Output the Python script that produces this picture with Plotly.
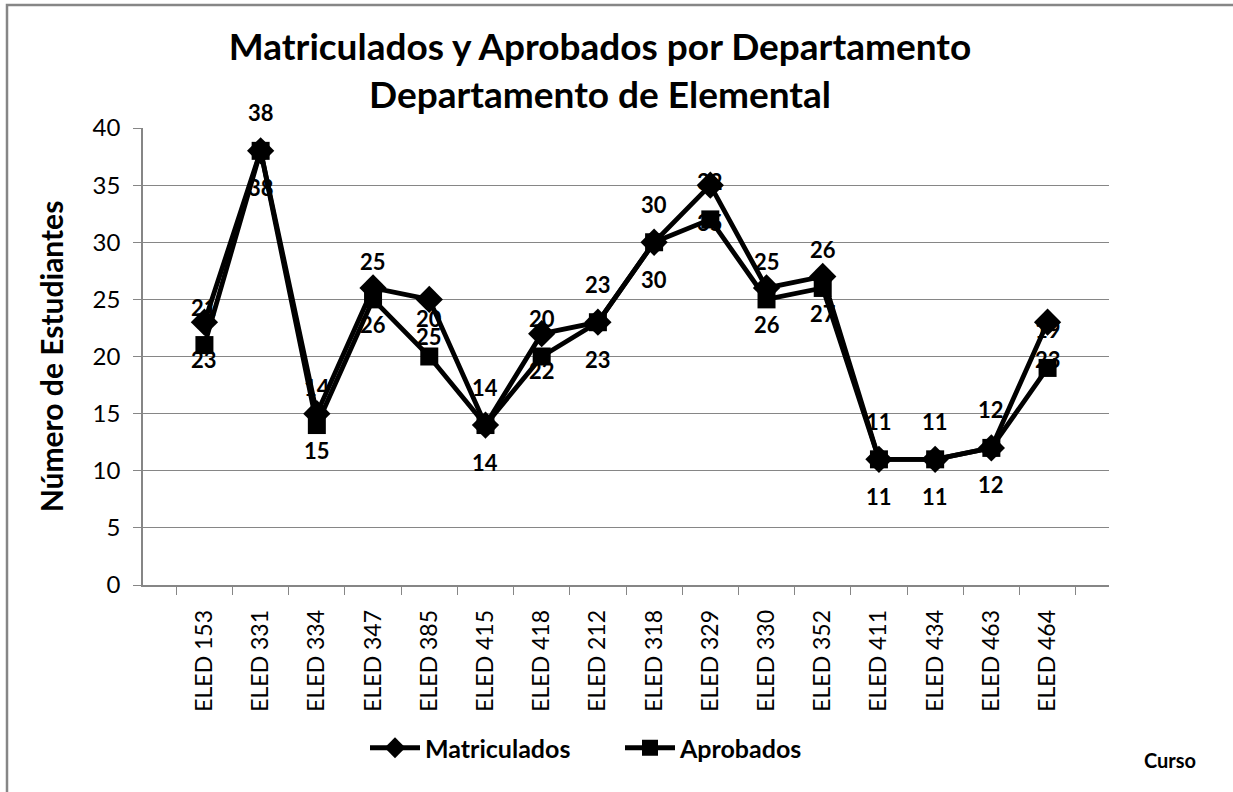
import plotly.graph_objects as go

cursos = ["ELED 153", "ELED 331", "ELED 334", "ELED 347", "ELED 385", "ELED 415",
          "ELED 418", "ELED 212", "ELED 318", "ELED 329", "ELED 330", "ELED 352",
          "ELED 411", "ELED 434", "ELED 463", "ELED 464"]
matriculados = [23, 38, 15, 26, 25, 14, 22, 23, 30, 35, 26, 27, 11, 11, 12, 23]
aprobados = [21, 38, 14, 25, 20, 14, 20, 23, 30, 32, 25, 26, 11, 11, 12, 19]

FONT = "Lato"
W, H = 1233, 792
L, R, T, B = 143, 124, 128, 207
pw, ph = W - L - R, H - T - B

fig = go.Figure()
fig.add_trace(go.Scatter(
    x=cursos, y=matriculados, name="Matriculados", mode="lines+markers",
    line=dict(color="black", width=4.8),
    marker=dict(symbol="diamond", size=21, color="black"),
))
fig.add_trace(go.Scatter(
    x=cursos, y=aprobados, name="Aprobados", mode="lines+markers",
    line=dict(color="black", width=4.8),
    marker=dict(symbol="square", size=18, color="black"),
))

annotations = []
for c, v in zip(cursos, aprobados):
    annotations.append(dict(x=c, y=v, xref="x", yref="y", text=str(v), showarrow=False,
                            yshift=38, font=dict(family=FONT, size=22, color="black", weight="bold")))
for c, v in zip(cursos, matriculados):
    annotations.append(dict(x=c, y=v, xref="x", yref="y", text=str(v), showarrow=False,
                            yshift=-37, font=dict(family=FONT, size=22, color="black", weight="bold")))

annotations.append(dict(text="Curso", xref="paper", yref="paper",
                        x=(1170 - L) / pw, y=(H - B - 760) / ph, showarrow=False,
                        xanchor="center", yanchor="middle",
                        font=dict(family=FONT, size=20, color="black", weight="bold")))

fig.update_layout(
    width=W, height=H,
    margin=dict(l=L, r=R, t=T, b=B, autoexpand=False),
    paper_bgcolor="white", plot_bgcolor="white",
    font=dict(family=FONT, color="black"),
    title=dict(
        text="Matriculados y Aprobados por Departamento<br>Departamento de Elemental",
        x=(600 - L) / pw, xref="paper", xanchor="center",
        y=1 - 60 / H, yref="container", yanchor="top",
        font=dict(family=FONT, size=37, color="black", weight="bold"),
    ),
    xaxis=dict(
        type="category", tickangle=-90, tickson="boundaries",
        ticks="outside", ticklen=8, tickcolor="#868686",
        showline=True, linecolor="#868686", linewidth=1.5,
        showgrid=False, tickfont=dict(family=FONT, size=23, color="black"),
        ticklabelstandoff=14,
    ),
    yaxis=dict(
        range=[0, 40], dtick=5, ticks="outside", ticklen=8, tickcolor="#868686",
        showline=True, linecolor="#868686", linewidth=1.5,
        showgrid=True, gridcolor="#868686", gridwidth=1.2,
        tickfont=dict(family=FONT, size=24, color="black"),
        ticklabelstandoff=8,
        title=dict(text="Número de Estudiantes", standoff=20,
                   font=dict(family=FONT, size=30, color="black", weight="bold")),
        zeroline=False,
    ),
    legend=dict(
        orientation="h", x=(365 - L) / pw, xanchor="left",
        y=(H - B - 748) / ph, yanchor="middle",
        font=dict(family=FONT, size=25, color="black", weight="bold"),
        entrywidth=190, itemwidth=50, bgcolor="rgba(0,0,0,0)",
    ),
    annotations=annotations,
    shapes=[dict(type="rect", xref="paper", yref="paper",
                 x0=(7 - L) / pw, x1=(W + 20 - L) / pw,
                 y0=(H - B - (H + 20)) / ph, y1=(H - B - 5) / ph,
                 line=dict(color="#868686", width=2.5), fillcolor="rgba(0,0,0,0)",
                 layer="below")],
    showlegend=True,
)

fig.write_html("out.html", config={"displayModeBar": False},
               post_script="document.body.style.margin='0';document.body.style.overflow='hidden';")
